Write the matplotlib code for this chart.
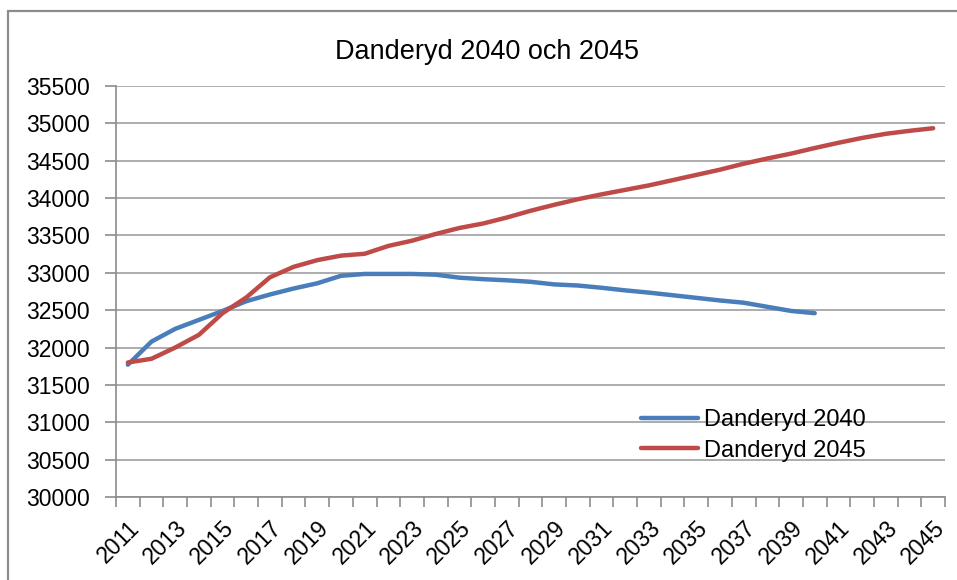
import numpy as np
import matplotlib
matplotlib.use('Agg')
import matplotlib.pyplot as plt
from matplotlib.patches import Rectangle
from matplotlib.ticker import FixedLocator, NullFormatter

# data
years = list(range(2011, 2046))
danderyd_2040 = [31770, 32080, 32250, 32370, 32490, 32620, 32710, 32790, 32860, 32960,
                 32985, 32985, 32985, 32975, 32935, 32915, 32900, 32880, 32845, 32830,
                 32800, 32765, 32735, 32700, 32665, 32630, 32600, 32545, 32490, 32460]
danderyd_2045 = [31800, 31850, 32000, 32170, 32460, 32670, 32940, 33080, 33170, 33230,
                 33255, 33360, 33430, 33520, 33600, 33660, 33740, 33830, 33910, 33985,
                 34050, 34110, 34170, 34240, 34310, 34380, 34460, 34530, 34595, 34670,
                 34740, 34805, 34860, 34900, 34935]
series_names = ['Danderyd 2040', 'Danderyd 2045']
yticks = list(range(30000, 35501, 500))

blue = '#4A7EBB'
red = '#BE4B48'
gray = '#8C8C8C'
font = 'Liberation Sans'

W, H = 957, 580
fig = plt.figure(figsize=(W / 100, H / 100), dpi=100)
ax = fig.add_axes([116 / W, 1 - 497 / H, (945 - 116) / W, (497 - 86) / H])

x = np.arange(len(years))
ax.plot(x[:len(danderyd_2040)], danderyd_2040, color=blue, lw=3.2,
        solid_capstyle='round', label=series_names[0], zorder=3)
ax.plot(x, danderyd_2045, color=red, lw=3.2,
        solid_capstyle='round', label=series_names[1], zorder=3)

ax.set_xlim(-0.5, len(years) - 0.5)
ax.set_ylim(yticks[0], yticks[-1])

# y axis
ax.set_yticks(yticks)
ax.set_yticklabels([str(v) for v in yticks], fontsize=16.5, family=font)
ax.yaxis.grid(True, color='#A6A6A6', lw=1.3)
ax.set_axisbelow(True)

# x axis: labels every second year, tick marks between categories
ax.set_xticks(x[::2])
ax.set_xticklabels([str(y) for y in years[::2]], rotation=45, ha='right',
                   rotation_mode='anchor', fontsize=16.5, family=font)
ax.tick_params(axis='x', which='major', length=0, pad=14)
ax.xaxis.set_minor_locator(FixedLocator(np.arange(-0.5, len(years), 1.0)))
ax.xaxis.set_minor_formatter(NullFormatter())
ax.tick_params(axis='x', which='minor', length=7, width=1.2, color=gray, direction='out')
ax.tick_params(axis='y', length=8, width=1.2, color=gray, direction='out', pad=11)

for s in ['top', 'right']:
    ax.spines[s].set_visible(False)
for s in ['left', 'bottom']:
    ax.spines[s].set_color(gray)
    ax.spines[s].set_linewidth(1.2)

fig.text(487 / W, 1 - 52 / H, 'Danderyd 2040 och 2045', ha='center', va='center',
         fontsize=19.5, family=font)

leg = ax.legend(loc='upper left', bbox_to_anchor=((632 - 116) / (945 - 116), (497 - 400) / (497 - 86)),
                frameon=False, prop={'family': font, 'size': 17},
                handlelength=2.4, handletextpad=0.25, labelspacing=0.35, borderaxespad=0)

# chart border
fig.patches.append(Rectangle((8 / W, -0.2), 1.5, 1.2 - 11 / H, transform=fig.transFigure,
                             fill=False, edgecolor=gray, lw=1.6))

fig.savefig('out.png', dpi=100)
